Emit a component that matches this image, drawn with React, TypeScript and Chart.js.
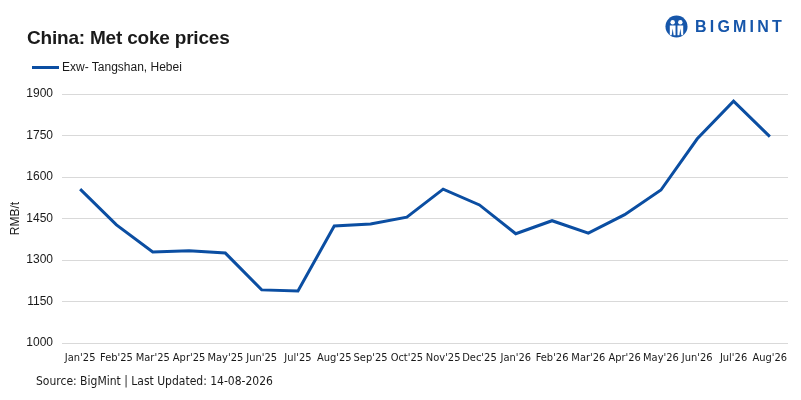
import { useEffect, useRef } from "react";
import { Chart, registerables } from "chart.js";

Chart.register(...registerables);

const months = [
  "Jan'25", "Feb'25", "Mar'25", "Apr'25", "May'25", "Jun'25", "Jul'25",
  "Aug'25", "Sep'25", "Oct'25", "Nov'25", "Dec'25", "Jan'26", "Feb'26",
  "Mar'26", "Apr'26", "May'26", "Jun'26", "Jul'26", "Aug'26",
];
const tangshanPrices = [
  1556, 1427, 1329, 1333, 1325, 1192, 1188, 1423, 1430, 1455,
  1556, 1499, 1395, 1442, 1397, 1464, 1553, 1738, 1874, 1746,
];
const yTicks = [1000, 1150, 1300, 1450, 1600, 1750, 1900];

const BLUE = "#0b4ea2";
const TEXT = "#1a1a1a";
const NARROW = "DejaVu Sans Condensed";

export default function App() {
  const canvasRef = useRef<HTMLCanvasElement>(null);
  const chartRef = useRef<Chart | null>(null);

  useEffect(() => {
    document.body.style.margin = "0";
    if (!canvasRef.current) return;
    const ctx = canvasRef.current.getContext("2d");
    if (!ctx) return;
    chartRef.current?.destroy();

    chartRef.current = new Chart(ctx, {
      type: "line",
      data: {
        labels: months,
        datasets: [
          {
            label: "Exw- Tangshan, Hebei",
            data: tangshanPrices,
            borderColor: BLUE,
            backgroundColor: BLUE,
            borderWidth: 3,
            pointRadius: 0,
            tension: 0,
          },
        ],
      },
      options: {
        animation: false,
        responsive: false,
        layout: { padding: { top: 94, right: 13, bottom: 0, left: 0 } },
        plugins: { legend: { display: false }, tooltip: { enabled: false } },
        scales: {
          x: {
            offset: true,
            grid: { display: false },
            border: { display: false },
            ticks: {
              color: TEXT,
              maxRotation: 0,
              autoSkip: false,
              padding: 1,
              font: { family: NARROW, size: 11 },
            },
            afterFit: (s: any) => {
              s.height = 57;
            },
          },
          y: {
            min: 1000,
            max: 1900,
            afterBuildTicks: (s: any) => {
              s.ticks = yTicks.map((v) => ({ value: v }));
            },
            grid: { color: "#d9d9d9", lineWidth: 1, drawTicks: false },
            border: { display: false },
            ticks: {
              color: TEXT,
              padding: 9,
              callback: (v: any) => String(v),
              font: { family: "Liberation Sans", size: 12 },
            },
            title: {
              display: true,
              text: "RMB/t",
              color: TEXT,
              padding: { top: 8, bottom: 0 },
              font: { family: "Liberation Sans", size: 12 },
            },
            afterFit: (s: any) => {
              s.width = 62;
            },
          },
        },
      },
    });

    return () => {
      chartRef.current?.destroy();
      chartRef.current = null;
    };
  }, []);

  return (
    <div style={{ position: "relative", width: 801, height: 400, background: "#fff", fontFamily: "Liberation Sans, Arial, sans-serif", color: TEXT }}>
      <canvas ref={canvasRef} width={801} height={400} style={{ position: "absolute", left: 0, top: 0 }} />
      <div style={{ position: "absolute", left: 27, top: 27, fontSize: 19, fontWeight: 700, letterSpacing: -0.2 }}>
        China: Met coke prices
      </div>
      <div style={{ position: "absolute", left: 32, top: 60, display: "flex", alignItems: "center", fontSize: 12 }}>
        <span style={{ display: "inline-block", width: 27, height: 3, background: BLUE, marginRight: 3 }} />
        <span>Exw- Tangshan, Hebei</span>
      </div>
      <div style={{ position: "absolute", left: 36, top: 374, fontSize: 12, fontFamily: NARROW }}>
        Source: BigMint | Last Updated: 14-08-2026
      </div>
      <div style={{ position: "absolute", left: 665, top: 15, display: "flex", alignItems: "center" }}>
        <svg width={23} height={23} viewBox="0 0 24 24">
          <circle cx={12} cy={12} r={11.5} fill="#1656aa" />
          <circle cx={8} cy={7.5} r={2.3} fill="#fff" />
          <circle cx={16} cy={7.5} r={2.3} fill="#fff" />
          <path d="M5 11 L11 11 L11 21 L9 21 L8 14 L7 21 L5 21 Z" fill="#fff" />
          <path d="M13 11 L19 11 L19 21 L17 21 L16 14 L15 21 L13 21 Z" fill="#fff" />
        </svg>
        <span style={{ marginLeft: 7, fontSize: 16, fontWeight: 700, letterSpacing: 3.2, color: "#1656aa" }}>BIGMINT</span>
      </div>
    </div>
  );
}
